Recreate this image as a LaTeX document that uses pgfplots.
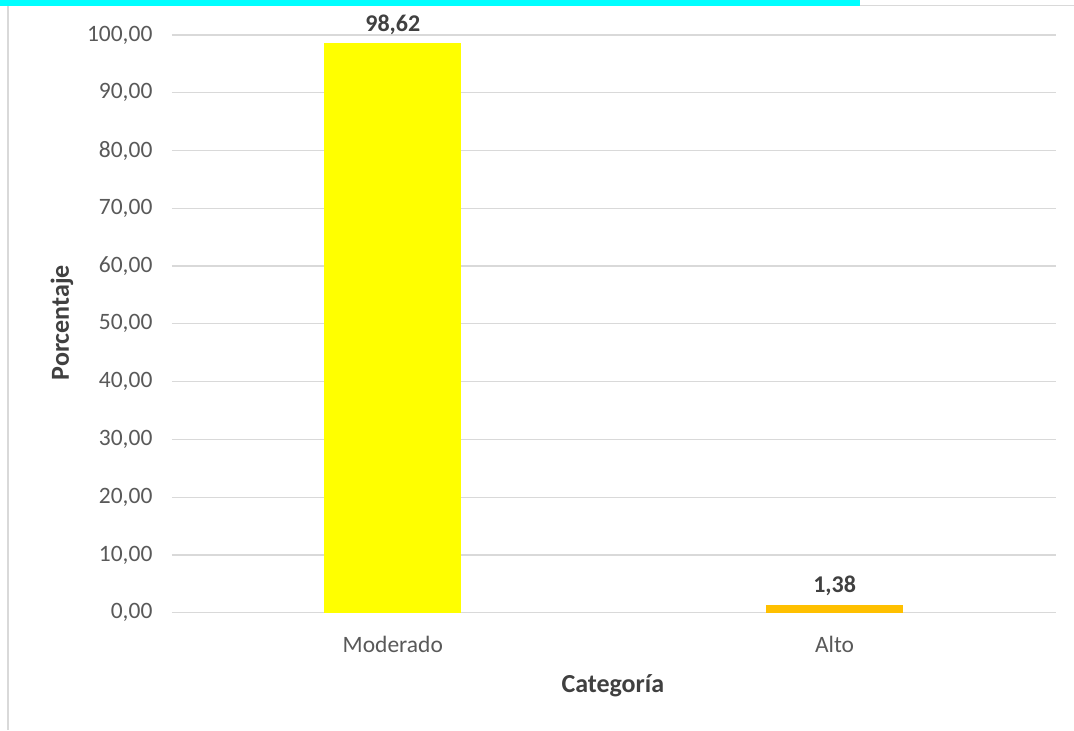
\documentclass[border=0pt]{standalone}
\usepackage{pgfplots}
\pgfplotsset{compat=1.18}
\usepackage{fontspec}
\setmainfont{Carlito}
\definecolor{gridc}{HTML}{D9D9D9}
\definecolor{tickc}{HTML}{595959}
\definecolor{labc}{HTML}{404040}
\definecolor{yel}{HTML}{FFFF00}
\definecolor{ora}{HTML}{FFC000}
\definecolor{cy}{HTML}{00FFFF}
\begin{document}
\begin{tikzpicture}[x=1pt,y=1pt]
\fill[white] (0,0) rectangle (1074,730);
\fill[cy] (0,724) rectangle (860,730);
\draw[gridc, line width=1.5pt] (8,0) -- (8,724);
\draw[gridc, line width=1pt] (860,724) -- (1074,724);
\begin{axis}[
  at={(172pt,117pt)}, anchor=south west,
  scale only axis, width=884pt, height=578pt,
  xmin=-0.5, xmax=1.5, ymin=0, ymax=100,
  xtick={0,1}, xticklabels={Moderado,Alto},
  ytick={0,10,...,100},
  ymajorgrids, grid style={gridc, line width=1.2pt},
  axis line style={draw=none},
  axis x line*=bottom, axis y line*=left,
  x axis line style={gridc, line width=1.2pt},
  major tick length=0pt,
  tick label style={font=\fontsize{23.5}{25}\selectfont, text=tickc},
  xticklabel style={yshift=-20pt},
  yticklabel style={xshift=-16pt},
  /pgf/number format/.cd, use comma, fixed, fixed zerofill, precision=2, 1000 sep={}, assume math mode=true,
  /pgfplots/.cd,
  ylabel={\bfseries Porcentaje}, xlabel={\bfseries Categoría},
  label style={font=\fontsize{26}{28}\selectfont, text=labc},
  ylabel style={at={(axis description cs:-0.1244,0.502)}, anchor=center},
  xlabel style={at={(axis description cs:0.499,-0.126)}, anchor=center},
  clip=false,
  nodes near coords,
  every node near coord/.append style={font=\bfseries\fontsize{24}{26}\selectfont, text=labc, yshift=5pt, /pgf/number format/.cd, use comma, fixed, precision=2, assume math mode=true},
  bar width=137pt,
]
\addplot[ybar, fill=yel, draw=none, bar shift=0pt] coordinates {(0,98.62)};
\addplot[ybar, fill=ora, draw=none, bar shift=0pt] coordinates {(1,1.38)};
\end{axis}
\end{tikzpicture}
\end{document}
